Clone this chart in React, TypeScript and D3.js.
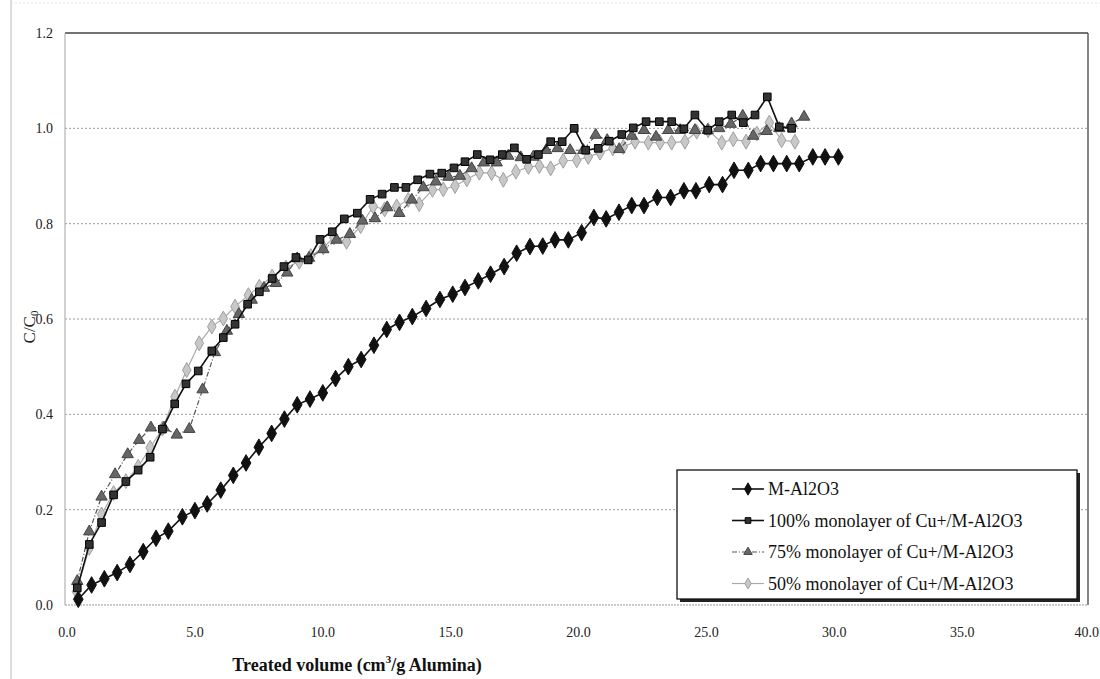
import React from "react";
import * as d3 from "d3";

// Breakthrough data: treated volume (cm3/g Alumina) vs C/C0
const mAlX = [0.52, 1.04, 1.54, 2.04, 2.54, 3.06, 3.56, 4.04, 4.59, 5.08, 5.56, 6.09, 6.58, 7.08, 7.58, 8.08, 8.58, 9.08, 9.58, 10.08, 10.58, 11.08, 11.58, 12.08, 12.58, 13.08, 13.58, 14.12, 14.66, 15.16, 15.64, 16.16, 16.64, 17.17, 17.66, 18.18, 18.68, 19.16, 19.68, 20.2, 20.68, 21.16, 21.66, 22.16, 22.64, 23.16, 23.68, 24.2, 24.67, 25.19, 25.71, 26.16, 26.72, 27.2, 27.7, 28.22, 28.71, 29.24, 29.72, 30.24];
const mAlY = [0.012, 0.042, 0.055, 0.068, 0.085, 0.112, 0.14, 0.155, 0.185, 0.198, 0.212, 0.241, 0.272, 0.298, 0.331, 0.36, 0.39, 0.42, 0.432, 0.445, 0.475, 0.5, 0.515, 0.545, 0.578, 0.593, 0.605, 0.622, 0.641, 0.652, 0.666, 0.68, 0.694, 0.71, 0.738, 0.752, 0.753, 0.766, 0.766, 0.781, 0.813, 0.81, 0.824, 0.838, 0.838, 0.855, 0.855, 0.869, 0.869, 0.882, 0.882, 0.912, 0.912, 0.926, 0.926, 0.926, 0.926, 0.94, 0.94, 0.94];

const cu100X = [0.48, 0.95, 1.43, 1.9, 2.38, 2.86, 3.33, 3.81, 4.29, 4.73, 5.21, 5.74, 6.19, 6.65, 7.14, 7.6, 8.1, 8.56, 9.03, 9.51, 9.97, 10.45, 10.92, 11.43, 11.93, 12.4, 12.88, 13.33, 13.79, 14.27, 14.73, 15.21, 15.64, 16.12, 16.62, 17.1, 17.57, 18.05, 18.51, 18.99, 19.44, 19.91, 20.36, 20.85, 21.28, 21.77, 22.22, 22.72, 23.24, 23.72, 24.2, 24.63, 25.13, 25.58, 26.07, 26.52, 26.98, 27.46, 27.93, 28.41];
const cu100Y = [0.036, 0.127, 0.173, 0.231, 0.259, 0.283, 0.31, 0.369, 0.422, 0.464, 0.491, 0.533, 0.561, 0.589, 0.631, 0.657, 0.685, 0.71, 0.729, 0.724, 0.767, 0.783, 0.81, 0.822, 0.851, 0.862, 0.876, 0.876, 0.892, 0.904, 0.906, 0.917, 0.93, 0.945, 0.934, 0.945, 0.959, 0.935, 0.945, 0.972, 0.972, 1.0, 0.954, 0.958, 0.973, 0.987, 1.001, 1.014, 1.014, 1.014, 0.999, 1.028, 0.996, 1.014, 1.028, 1.012, 1.028, 1.066, 1.003, 1.0];

const cu75X = [0.48, 0.95, 1.43, 1.96, 2.45, 2.9, 3.36, 3.87, 4.37, 4.86, 5.38, 5.86, 6.33, 6.8, 7.3, 7.78, 8.25, 8.69, 9.08, 9.54, 10.1, 10.62, 11.14, 11.63, 12.12, 12.6, 13.07, 13.56, 14.01, 14.5, 14.99, 15.44, 15.9, 16.38, 16.88, 17.33, 17.82, 18.31, 18.81, 19.26, 19.75, 20.27, 20.75, 21.2, 21.67, 22.16, 22.64, 23.11, 23.59, 24.05, 24.63, 25.13, 25.58, 26.03, 26.5, 26.91, 27.44, 27.93, 28.41, 28.9];
const cu75Y = [0.05, 0.154, 0.227, 0.274, 0.316, 0.346, 0.372, 0.372, 0.357, 0.369, 0.452, 0.53, 0.575, 0.61, 0.64, 0.665, 0.675, 0.697, 0.727, 0.728, 0.746, 0.766, 0.778, 0.806, 0.811, 0.834, 0.822, 0.85, 0.876, 0.888, 0.898, 0.9, 0.916, 0.928, 0.928, 0.942, 0.939, 0.94, 0.954, 0.958, 0.954, 0.954, 0.986, 0.975, 0.956, 0.984, 0.996, 0.982, 0.996, 0.996, 0.996, 0.996, 1.0, 1.009, 1.026, 0.984, 0.994, 1.0, 1.01, 1.024];

const cu50X = [0.45, 0.95, 1.43, 1.9, 2.38, 2.86, 3.33, 3.81, 4.3, 4.76, 5.25, 5.74, 6.19, 6.65, 7.17, 7.6, 8.1, 8.64, 9.16, 9.61, 10.1, 10.52, 11.01, 11.56, 12.05, 12.5, 12.97, 13.42, 13.85, 14.37, 14.79, 15.25, 15.71, 16.2, 16.68, 17.14, 17.63, 18.12, 18.55, 18.99, 19.48, 20.01, 20.46, 20.92, 21.42, 21.83, 22.29, 22.81, 23.27, 23.72, 24.24, 24.7, 25.15, 25.68, 26.13, 26.63, 27.05, 27.54, 28.02, 28.54];
const cu50Y = [0.028, 0.12, 0.19, 0.235, 0.26, 0.29, 0.33, 0.37, 0.437, 0.493, 0.549, 0.584, 0.601, 0.626, 0.65, 0.668, 0.689, 0.708, 0.72, 0.732, 0.75, 0.771, 0.762, 0.795, 0.836, 0.83, 0.836, 0.85, 0.841, 0.871, 0.872, 0.879, 0.893, 0.907, 0.906, 0.892, 0.909, 0.919, 0.921, 0.916, 0.932, 0.933, 0.94, 0.949, 0.958, 0.961, 0.972, 0.97, 0.97, 0.97, 0.972, 0.993, 0.996, 0.97, 0.977, 0.972, 0.989, 1.012, 0.975, 0.972];

const xTicks = [0, 5, 10, 15, 20, 25, 30, 35, 40];
const yTicks = [0, 0.2, 0.4, 0.6, 0.8, 1.0, 1.2];
const gridTicks = [0.2, 0.4, 0.6, 0.8, 1.0];

const seriesNames = [
  "M-Al2O3",
  "100% monolayer of Cu+/M-Al2O3",
  "75% monolayer of Cu+/M-Al2O3",
  "50% monolayer of Cu+/M-Al2O3",
];

type Style = {
  line: string;
  width: number;
  dash?: string;
  symbol: d3.SymbolType;
  size: number;
  fill: string;
  stroke: string;
};

const styles: Style[] = [
  { line: "#111", width: 1.6, symbol: d3.symbolDiamond, size: 80, fill: "#111", stroke: "#111" },
  { line: "#111", width: 1.6, symbol: d3.symbolSquare, size: 58, fill: "#333", stroke: "#000" },
  { line: "#555", width: 1.2, dash: "5,2,1,2", symbol: d3.symbolTriangle, size: 56, fill: "#666", stroke: "#444" },
  { line: "#aaa", width: 1.2, symbol: d3.symbolDiamond, size: 64, fill: "#c8c8c8", stroke: "#a0a0a0" },
];

const W = 1100;
const H = 679;
const M = { left: 65, right: 1088, top: 33, bottom: 605 };

const FONT = "'Liberation Serif', 'Times New Roman', 'DejaVu Serif', serif";

export default function App() {
  const x = d3.scaleLinear().domain([0, 40]).range([M.left, M.right]);
  const y = d3.scaleLinear().domain([0, 1.2]).range([M.bottom, M.top]);

  const series = [
    { xs: mAlX, ys: mAlY },
    { xs: cu100X, ys: cu100Y },
    { xs: cu75X, ys: cu75Y },
    { xs: cu50X, ys: cu50Y },
  ].map((s) => s.xs.map((v, i) => [v, s.ys[i]] as [number, number]));

  const line = d3
    .line<[number, number]>()
    .x((d) => x(d[0]))
    .y((d) => y(d[1]));

  const drawOrder = [3, 2, 1, 0];
  const legend = { x: 677, y: 470, w: 400, h: 129 };
  const txt = { fontFamily: FONT };

  return (
    <svg
      width={W}
      height={H}
      style={{ position: "absolute", left: 0, top: 0, background: "#fff", fontFamily: FONT }}
    >
      {/* outer frame */}
      <line x1={11} x2={11} y1={0} y2={H} stroke="#d0d0d0" strokeWidth={1.5} />
      <line x1={11} x2={W} y1={3} y2={3} stroke="#e2e2e2" strokeWidth={1} strokeDasharray="2,2" />

      {/* gridlines */}
      {gridTicks.map((t) => (
        <line
          key={t}
          x1={M.left}
          x2={M.right}
          y1={y(t)}
          y2={y(t)}
          stroke="#9a9a9a"
          strokeWidth={1}
          strokeDasharray="2,2"
        />
      ))}

      {/* plot border */}
      <line x1={M.left} x2={M.right} y1={M.top} y2={M.top} stroke="#444" strokeWidth={1.3} />
      <line x1={M.right} x2={M.right} y1={M.top} y2={M.bottom} stroke="#444" strokeWidth={1.3} />
      <line x1={M.left} x2={M.left} y1={M.top} y2={M.bottom} stroke="#b8b8b8" strokeWidth={1.3} />
      <line x1={M.left} x2={M.right} y1={M.bottom} y2={M.bottom} stroke="#9a9a9a" strokeWidth={1.2} strokeDasharray="2,1" />

      {/* y tick labels */}
      {yTicks.map((t) => (
        <text key={t} style={txt} x={53} y={y(t) + 5} textAnchor="end" fontSize={14} fill="#222">
          {t.toFixed(1)}
        </text>
      ))}

      {/* x tick labels */}
      {xTicks.map((t, i) => {
        const last = i === xTicks.length - 1;
        return (
          <text
            key={t}
            style={txt}
            x={last ? W - 1 : x(t) + 2}
            y={637}
            textAnchor={last ? "end" : "middle"}
            fontSize={14}
            fill="#222"
          >
            {t.toFixed(1)}
          </text>
        );
      })}

      {/* axis titles */}
      <text
        style={txt}
        transform={`translate(35,${(M.top + M.bottom) / 2 + 8}) rotate(-90)`}
        textAnchor="middle"
        fontSize={17}
        fill="#222"
      >
        C/C
        <tspan fontSize={11} dy={3}>0</tspan>
      </text>
      <text style={txt} x={357} y={671} textAnchor="middle" fontSize={18} fontWeight="bold" fill="#111">
        Treated volume (cm
        <tspan fontSize={11} dy={-8}>3</tspan>
        <tspan dy={8}>/g Alumina)</tspan>
      </text>

      {/* series */}
      {drawOrder.map((si) => {
        const st = styles[si];
        const sym = d3.symbol().type(st.symbol).size(st.size);
        return (
          <g key={si}>
            <path
              d={line(series[si]) || ""}
              fill="none"
              stroke={st.line}
              strokeWidth={st.width}
              strokeDasharray={st.dash}
            />
            {series[si].map((d, i) => (
              <path
                key={i}
                d={sym() || ""}
                transform={`translate(${x(d[0])},${y(d[1])})`}
                fill={st.fill}
                stroke={st.stroke}
                strokeWidth={1}
              />
            ))}
          </g>
        );
      })}

      {/* legend */}
      <rect x={legend.x + 3} y={legend.y + 3} width={legend.w} height={legend.h} fill="#222" />
      <rect x={legend.x} y={legend.y} width={legend.w} height={legend.h} fill="#fff" stroke="#111" strokeWidth={1.3} />
      {seriesNames.map((name, i) => {
        const st = styles[i];
        const sym = d3.symbol().type(st.symbol).size(st.size * 0.55);
        const ly = legend.y + 19 + i * 31.5;
        return (
          <g key={name}>
            <line
              x1={732}
              x2={764}
              y1={ly}
              y2={ly}
              stroke={st.line}
              strokeWidth={st.width}
              strokeDasharray={st.dash}
            />
            <path d={sym() || ""} transform={`translate(748,${ly})`} fill={st.fill} stroke={st.stroke} />
            <text style={txt} x={768} y={ly + 6} fontSize={18} fill="#111">
              {name}
            </text>
          </g>
        );
      })}
    </svg>
  );
}
